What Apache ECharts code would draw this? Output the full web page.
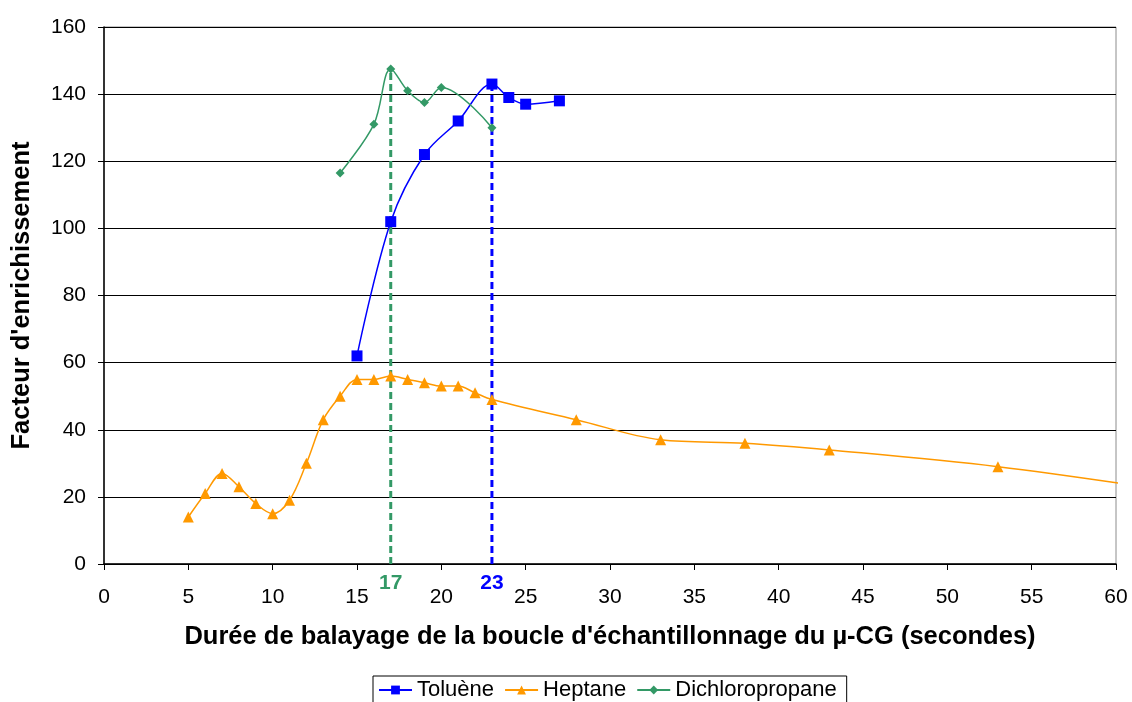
<!DOCTYPE html>
<html>
<head>
<meta charset="utf-8">
<script src="https://cdn.jsdelivr.net/npm/echarts@6/dist/echarts.min.js"></script>
<style>
  html, body { margin: 0; padding: 0; background: #fff; }
  #main { width: 1132px; height: 702px; }
</style>
</head>
<body>
<div id="main"></div>
<script>
// valeurs
const tolueneX = [15, 17, 19, 21, 23, 24, 25, 27];
const tolueneY = [62, 102, 122, 132, 143, 139, 137, 138];

const heptaneX = [5, 6, 7, 8, 9, 10, 11, 12, 13, 14, 15, 16, 17, 18, 19, 20, 21, 22, 23, 28, 33, 38, 43, 53, 63];
const heptaneY = [14, 21, 27, 23, 18, 15, 19, 30, 43, 50, 55, 55, 56, 55, 54, 53, 53, 51, 49, 43, 37, 36, 34, 29, 22];

const dcpX = [14, 16, 17, 18, 19, 20, 23];
const dcpY = [116.5, 131, 147.5, 141, 137.5, 142, 130];

const yTicks = [0, 20, 40, 60, 80, 100, 120, 140, 160];
const xTicks = [0, 5, 10, 15, 20, 25, 30, 35, 40, 45, 50, 55, 60];

const optimumDcp = 17;
const optimumTol = 23;

const FONT = "Liberation Sans, Arial, sans-serif";

function pairs(xs, ys) {
  return xs.map((x, i) => [x, ys[i]]);
}

// ligne pointillée verticale jusqu'au point optimal
function dropLine(x, xs, ys, color) {
  const y = ys[xs.indexOf(x)];
  return {
    type: "line",
    name: "opt" + x,
    data: [[x, 0], [x, y]],
    symbol: "none",
    lineStyle: { color: color, width: 3, type: [7, 4] },
    z: 1,
    silent: true
  };
}

// étiquette de la durée optimale sous l'axe
function optLabel(x, color) {
  return {
    type: "scatter",
    name: "lab" + x,
    data: [[x, 0]],
    symbolSize: 0,
    itemStyle: { color: color, opacity: 1 },
    label: {
      show: true,
      position: "bottom",
      distance: 9,
      formatter: String(x),
      color: color,
      opacity: 1,
      fontWeight: "bold",
      fontSize: 21,
      fontFamily: FONT
    },
    clip: false,
    silent: true,
    z: 5
  };
}

const myChart = echarts.init(document.getElementById("main"));

const option = {
  backgroundColor: "#fff",
  animation: false,
  grid: {
    left: 104,
    right: 16,
    top: 27,
    bottom: 138,
    show: true,
    borderColor: "#8c8c8c",
    borderWidth: 1
  },
  legend: {
    data: ["Toluène", "Heptane", "Dichloropropane"],
    left: 373,
    top: 676,
    itemWidth: 33,
    itemHeight: 11,
    itemGap: 10,
    padding: [3, 10, 8, 5],
    borderColor: "#000",
    borderWidth: 1,
    textStyle: { fontSize: 22, color: "#000", fontFamily: FONT }
  },
  xAxis: {
    type: "value",
    min: 0,
    max: 60,
    interval: 5,
    name: "Durée de balayage de la boucle d'échantillonnage du µ-CG (secondes)",
    nameLocation: "middle",
    nameGap: 60,
    nameTextStyle: { fontSize: 25.5, fontWeight: "bold", color: "#000", fontFamily: FONT },
    axisLine: { show: true, onZero: false, lineStyle: { color: "#000", width: 1.5 } },
    axisTick: { show: true, inside: false, length: 6, lineStyle: { color: "#000" } },
    axisLabel: {
      margin: 23,
      fontSize: 21,
      color: "#000",
      fontFamily: FONT,
      formatter: v => (xTicks.includes(v) ? String(v) : "")
    },
    splitLine: { show: false }
  },
  yAxis: {
    type: "value",
    min: 0,
    max: 160,
    interval: 20,
    name: "Facteur d'enrichissement",
    nameLocation: "middle",
    nameGap: 69,
    nameTextStyle: { fontSize: 25.5, fontWeight: "bold", color: "#000", fontFamily: FONT },
    axisLine: { show: true, lineStyle: { color: "#000", width: 1.5 } },
    axisTick: { show: true, inside: false, length: 6, lineStyle: { color: "#000" } },
    axisLabel: {
      margin: 18,
      fontSize: 21,
      color: "#000",
      fontFamily: FONT,
      formatter: v => (yTicks.includes(v) ? String(v) : "")
    },
    splitLine: { show: true, lineStyle: { color: "#000", width: 1 } }
  },
  series: [
    dropLine(optimumDcp, dcpX, dcpY, "#339966"),
    dropLine(optimumTol, tolueneX, tolueneY, "#0000ff"),
    optLabel(optimumDcp, "#339966"),
    optLabel(optimumTol, "#0000ff"),
    {
      type: "line",
      name: "Toluène",
      data: pairs(tolueneX, tolueneY),
      smooth: 0.35,
      symbol: "rect",
      symbolSize: 11,
      itemStyle: { color: "#0000ff" },
      lineStyle: { color: "#0000ff", width: 1.5 },
      z: 3
    },
    {
      type: "line",
      name: "Heptane",
      data: pairs(heptaneX, heptaneY),
      smooth: 0.35,
      clip: true,
      symbol: "triangle",
      symbolSize: 11,
      itemStyle: { color: "#ff9900" },
      lineStyle: { color: "#ff9900", width: 1.5 },
      z: 3
    },
    {
      type: "line",
      name: "Dichloropropane",
      data: pairs(dcpX, dcpY),
      smooth: 0.35,
      symbol: "diamond",
      symbolSize: 9,
      itemStyle: { color: "#339966" },
      lineStyle: { color: "#339966", width: 1.5 },
      z: 3
    }
  ]
};

myChart.setOption(option);
window.addEventListener("resize", () => {
  myChart.resize();
});
</script>
</body>
</html>
